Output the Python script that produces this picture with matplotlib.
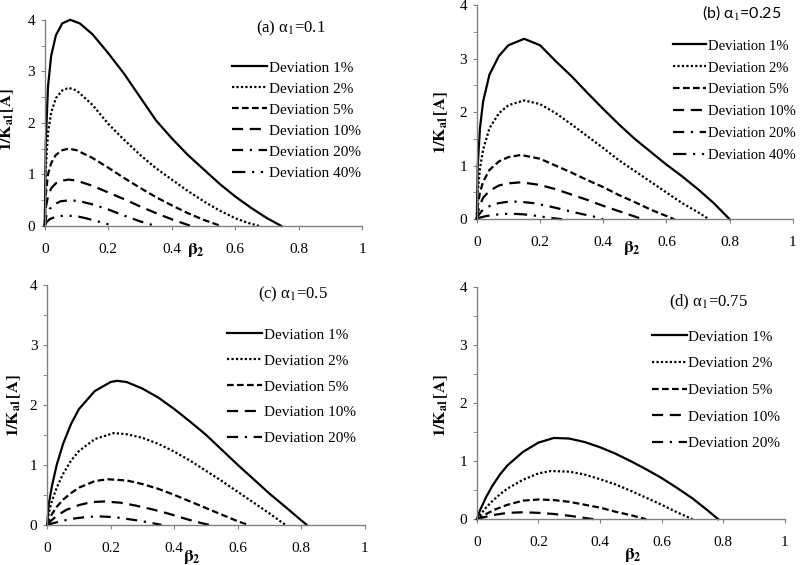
import matplotlib
matplotlib.use("Agg")
import matplotlib.pyplot as plt

plt.rcParams["font.family"] = ["Liberation Serif", "DejaVu Serif"]
plt.rcParams["mathtext.fontset"] = "stix"

labels = ["Deviation 1%", "Deviation 2%", "Deviation 5%", "Deviation 10%", "Deviation 20%", "Deviation 40%"]
styles = ["-", (0, (1, 1)), (0, (3, 1.5)), (0, (5, 3)), (0, (5, 3, 1, 3)), (0, (6, 3, 1, 3, 1, 3))]
titles = ["(a) α$_1$=0.1", "(b) α$_1$=0.25", "(c) α$_1$=0.5", "(d) α$_1$=0.75"]

# panel (a) alpha1 = 0.1
a_beta = [
    [0, 0.003, 0.01, 0.02, 0.035, 0.055, 0.08, 0.11, 0.15, 0.2, 0.25, 0.3, 0.35, 0.4, 0.45, 0.5, 0.55, 0.6, 0.65, 0.7, 0.745],
    [0, 0.003, 0.01, 0.02, 0.035, 0.055, 0.075, 0.1, 0.15, 0.2, 0.25, 0.3, 0.35, 0.4, 0.45, 0.5, 0.55, 0.6, 0.64, 0.675],
    [0, 0.003, 0.01, 0.02, 0.035, 0.055, 0.075, 0.1, 0.15, 0.2, 0.25, 0.3, 0.35, 0.4, 0.45, 0.5, 0.555],
    [0, 0.003, 0.01, 0.02, 0.035, 0.055, 0.075, 0.1, 0.15, 0.2, 0.25, 0.3, 0.35, 0.4, 0.46],
    [0, 0.005, 0.015, 0.03, 0.05, 0.08, 0.11, 0.15, 0.2, 0.25, 0.3, 0.35],
    [0, 0.005, 0.015, 0.03, 0.05, 0.07, 0.1, 0.13, 0.16, 0.19, 0.22],
]
a_k = [
    [0, 1.6, 2.7, 3.3, 3.7, 3.93, 4.0, 3.93, 3.72, 3.35, 2.95, 2.5, 2.05, 1.7, 1.38, 1.1, 0.82, 0.57, 0.35, 0.15, 0],
    [0, 1.1, 1.8, 2.2, 2.48, 2.63, 2.68, 2.63, 2.35, 1.98, 1.67, 1.38, 1.12, 0.9, 0.68, 0.48, 0.3, 0.15, 0.06, 0],
    [0, 0.6, 1.0, 1.22, 1.38, 1.47, 1.5, 1.47, 1.32, 1.13, 0.93, 0.74, 0.56, 0.4, 0.25, 0.12, 0],
    [0, 0.35, 0.58, 0.73, 0.83, 0.88, 0.9, 0.88, 0.78, 0.65, 0.52, 0.38, 0.25, 0.13, 0],
    [0, 0.2, 0.33, 0.42, 0.48, 0.5, 0.48, 0.42, 0.32, 0.2, 0.09, 0],
    [0, 0.07, 0.13, 0.17, 0.195, 0.2, 0.19, 0.15, 0.1, 0.05, 0],
]

# panel (b) alpha1 = 0.25
b_beta = [
    [0, 0.003, 0.01, 0.02, 0.04, 0.07, 0.1, 0.15, 0.2, 0.25, 0.3, 0.35, 0.4, 0.45, 0.5, 0.55, 0.6, 0.65, 0.7, 0.75, 0.8],
    [0, 0.003, 0.01, 0.02, 0.04, 0.07, 0.1, 0.15, 0.2, 0.25, 0.3, 0.35, 0.4, 0.45, 0.5, 0.55, 0.6, 0.65, 0.7, 0.735],
    [0, 0.003, 0.01, 0.02, 0.04, 0.07, 0.1, 0.14, 0.2, 0.25, 0.3, 0.35, 0.4, 0.45, 0.5, 0.55, 0.6, 0.625],
    [0, 0.003, 0.01, 0.02, 0.04, 0.07, 0.1, 0.14, 0.2, 0.25, 0.3, 0.35, 0.4, 0.45, 0.5, 0.525],
    [0, 0.005, 0.015, 0.03, 0.06, 0.09, 0.13, 0.18, 0.23, 0.28, 0.33, 0.37, 0.4],
    [0, 0.01, 0.03, 0.06, 0.09, 0.12, 0.15, 0.18, 0.21, 0.24, 0.27],
]
b_k = [
    [0, 1.0, 1.7, 2.2, 2.7, 3.05, 3.25, 3.37, 3.25, 2.95, 2.67, 2.36, 2.06, 1.77, 1.5, 1.26, 1.02, 0.8, 0.56, 0.3, 0],
    [0, 0.5, 0.95, 1.3, 1.7, 1.98, 2.13, 2.22, 2.15, 1.98, 1.77, 1.55, 1.33, 1.1, 0.9, 0.7, 0.5, 0.3, 0.13, 0],
    [0, 0.25, 0.5, 0.7, 0.92, 1.08, 1.16, 1.2, 1.13, 1.0, 0.87, 0.73, 0.6, 0.45, 0.32, 0.18, 0.06, 0],
    [0, 0.12, 0.27, 0.4, 0.53, 0.63, 0.67, 0.69, 0.64, 0.56, 0.46, 0.36, 0.25, 0.15, 0.05, 0],
    [0, 0.07, 0.15, 0.22, 0.29, 0.32, 0.33, 0.3, 0.24, 0.17, 0.1, 0.05, 0],
    [0, 0.03, 0.06, 0.085, 0.1, 0.1, 0.09, 0.07, 0.045, 0.02, 0],
]

# panel (c) alpha1 = 0.5
c_beta = [
    [0, 0.005, 0.015, 0.03, 0.05, 0.075, 0.1, 0.15, 0.2, 0.22, 0.25, 0.3, 0.35, 0.4, 0.45, 0.5, 0.55, 0.6, 0.65, 0.7, 0.75, 0.79, 0.817],
    [0, 0.005, 0.015, 0.03, 0.05, 0.075, 0.1, 0.15, 0.21, 0.25, 0.3, 0.35, 0.4, 0.45, 0.5, 0.55, 0.6, 0.65, 0.7, 0.75],
    [0, 0.005, 0.015, 0.03, 0.05, 0.075, 0.1, 0.15, 0.19, 0.25, 0.3, 0.35, 0.4, 0.45, 0.5, 0.55, 0.6, 0.633],
    [0, 0.01, 0.03, 0.06, 0.1, 0.14, 0.18, 0.23, 0.28, 0.33, 0.38, 0.43, 0.47, 0.51],
    [0, 0.02, 0.05, 0.09, 0.13, 0.17, 0.21, 0.25, 0.29, 0.33, 0.36],
]
c_k = [
    [0, 0.35, 0.65, 1.0, 1.35, 1.68, 1.93, 2.23, 2.38, 2.4, 2.38, 2.27, 2.12, 1.93, 1.72, 1.5, 1.25, 1.0, 0.76, 0.52, 0.3, 0.12, 0],
    [0, 0.2, 0.4, 0.62, 0.85, 1.07, 1.23, 1.43, 1.53, 1.51, 1.45, 1.35, 1.22, 1.07, 0.9, 0.73, 0.55, 0.37, 0.19, 0],
    [0, 0.08, 0.18, 0.3, 0.42, 0.53, 0.62, 0.73, 0.76, 0.74, 0.68, 0.6, 0.5, 0.39, 0.28, 0.17, 0.06, 0],
    [0, 0.06, 0.15, 0.25, 0.33, 0.38, 0.39, 0.37, 0.32, 0.26, 0.19, 0.11, 0.05, 0],
    [0, 0.03, 0.07, 0.11, 0.135, 0.14, 0.13, 0.1, 0.07, 0.03, 0],
]

# panel (d) alpha1 = 0.75 (20% curve not visible)
d_beta = [
    [0, 0.01, 0.03, 0.05, 0.075, 0.1, 0.15, 0.2, 0.25, 0.3, 0.35, 0.4, 0.45, 0.5, 0.55, 0.6, 0.65, 0.7, 0.75, 0.784],
    [0, 0.01, 0.03, 0.05, 0.075, 0.1, 0.15, 0.2, 0.24, 0.3, 0.35, 0.4, 0.45, 0.5, 0.55, 0.6, 0.65, 0.7],
    [0, 0.01, 0.03, 0.06, 0.1, 0.15, 0.2, 0.25, 0.3, 0.35, 0.4, 0.45, 0.5, 0.55],
    [0, 0.02, 0.05, 0.1, 0.15, 0.2, 0.25, 0.3, 0.34, 0.38],
    [],
]
d_k = [
    [0, 0.15, 0.38, 0.57, 0.77, 0.93, 1.16, 1.32, 1.4, 1.39, 1.33, 1.24, 1.13, 1.0, 0.86, 0.71, 0.54, 0.36, 0.15, 0],
    [0, 0.07, 0.2, 0.31, 0.43, 0.53, 0.68, 0.79, 0.83, 0.82, 0.77, 0.69, 0.6, 0.49, 0.37, 0.25, 0.12, 0],
    [0, 0.03, 0.09, 0.17, 0.25, 0.32, 0.34, 0.33, 0.3, 0.25, 0.2, 0.13, 0.07, 0],
    [0, 0.03, 0.07, 0.11, 0.12, 0.11, 0.09, 0.06, 0.03, 0],
    [],
]

fig = plt.figure(figsize=(8, 5.65), dpi=100)
boxes = [
    [0.056, 0.600, 0.397, 0.365],
    [0.596, 0.612, 0.395, 0.379],
    [0.059, 0.071, 0.397, 0.425],
    [0.596, 0.081, 0.385, 0.411],
]
ylab_pos = [(-0.09, 0.515), (-0.085, 0.453), (-0.076, 0.496), (-0.088, 0.49)]
xlab_pos = [(0.475, -0.075), (0.49, -0.093), (0.457, -0.095), (0.506, -0.115)]
title_pos = [(0.666, 0.956), (0.712, 0.963), (0.664, 0.958), (0.623, 0.935)]
leg_pos = [(0.59, 0.80), (0.62, 0.84), (0.566, 0.82), (0.568, 0.815)]
leg_space = [0.48, 0.6, 0.8, 0.85]
leg_size = [11, 10.5, 11, 11]

all_beta = [a_beta, b_beta, c_beta, d_beta]
all_k = [a_k, b_k, c_k, d_k]

for i in range(4):
    ax = fig.add_axes(boxes[i])
    for j in range(len(all_beta[i])):
        ax.plot(all_beta[i][j], all_k[i][j], color="black", linewidth=1.6,
                linestyle=styles[j], label=labels[j], clip_on=False)
    ax.set_xlim(0, 1)
    ax.set_ylim(0, 4)
    ax.set_xticks([0, 0.2, 0.4, 0.6, 0.8, 1])
    ax.set_xticklabels(["0", "0.2", "0.4", "0.6", "0.8", "1"])
    ax.set_yticks([0, 1, 2, 3, 4])
    ax.set_yticks([0.5, 1.5, 2.5, 3.5], minor=True)
    ax.tick_params(axis="both", labelsize=11, color="#808080", length=3, width=0.8, pad=9)
    ax.tick_params(axis="y", which="minor", length=3, color="#808080")
    ax.tick_params(axis="y", pad=4)
    for s in ("top", "right"):
        ax.spines[s].set_visible(False)
    for s in ("left", "bottom"):
        ax.spines[s].set_color("#808080")
        ax.spines[s].set_linewidth(1.0)
    ax.set_ylabel(r"$\mathbf{1/K_{a1}[A]}$", fontsize=12)
    ax.yaxis.set_label_coords(*ylab_pos[i])
    ax.set_xlabel(r"$\mathbf{\beta_2}$", fontsize=12.5)
    ax.xaxis.set_label_coords(*xlab_pos[i])
    if i == 1:
        ax.text(*title_pos[i], titles[i], transform=ax.transAxes, fontsize=11.5,
                family=["Lato", "DejaVu Sans"], va="center", ha="left")
    else:
        ax.text(*title_pos[i], titles[i], transform=ax.transAxes, fontsize=12,
                va="center", ha="left")
    ax.legend(loc="upper left", bbox_to_anchor=leg_pos[i], frameon=False, fontsize=leg_size[i],
              handlelength=2.3, handletextpad=0.1, labelspacing=leg_space[i],
              borderpad=0, borderaxespad=0)

fig.savefig("out.png", dpi=100)
